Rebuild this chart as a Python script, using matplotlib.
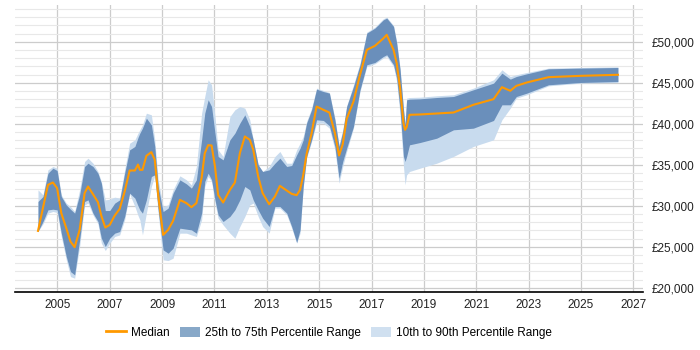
import matplotlib.pyplot as plt
from matplotlib.patches import Patch
from matplotlib.lines import Line2D
from matplotlib.ticker import MultipleLocator, FuncFormatter

plt.rcParams['font.family'] = ['Liberation Sans', 'DejaVu Sans']

# time points (decimal years) shared by all series
years = [2004.26, 2004.45, 2004.64, 2004.83, 2004.99, 2005.15, 2005.34, 2005.50, 2005.66, 2005.85,
         2006.04, 2006.17, 2006.36, 2006.55, 2006.68, 2006.83, 2007.00, 2007.19, 2007.38, 2007.57,
         2007.76, 2007.96, 2008.08, 2008.15, 2008.25, 2008.40, 2008.59, 2008.72, 2008.85, 2009.04,
         2009.23, 2009.42, 2009.68, 2009.93, 2010.12, 2010.31, 2010.51, 2010.63, 2010.76, 2010.89,
         2011.02, 2011.14, 2011.33, 2011.59, 2011.78, 2011.97,
         2012.16, 2012.35, 2012.48, 2012.67, 2012.84, 2013.09, 2013.31, 2013.50, 2013.76, 2013.95,
         2014.14, 2014.27, 2014.39, 2014.52, 2014.71, 2014.90, 2015.16, 2015.39, 2015.60, 2015.76,
         2015.90, 2016.05, 2016.31, 2016.56, 2016.82, 2017.13, 2017.45, 2017.58, 2017.84, 2017.96,
         2018.09, 2018.22, 2018.28, 2018.34, 2018.45, 2018.85, 2019.49, 2020.13,
         2020.89, 2021.66, 2021.98, 2022.30, 2022.53, 2022.93, 2023.76, 2024.97, 2026.41]

median = [26950, 29760, 32560, 32850, 32160, 29110, 27280, 25650, 24960, 27070,
          31550, 32360, 31420, 30450, 28780, 27360, 27680, 28820, 29630, 31750,
          34310, 34310, 35040, 34390, 34390, 36100, 36550, 35610, 31340, 26460,
          27070, 28170, 30730, 30330, 29840, 30330, 33420, 36420, 37400, 37360,
          34800, 31340, 30410, 31950, 32850, 36420,
          38460, 38050, 36870, 33580, 31550, 30200, 31140, 32440, 31870, 31460,
          31300, 31950, 33740, 36340, 38870, 42110, 41710, 41380, 38870, 36140,
          37520, 40610, 42720, 45980, 49020, 49510, 50410, 50850, 49020, 47400,
          44350, 40080, 39270, 39590, 41100, 41140, 41260, 41380,
          42320, 43010, 44470, 44030, 44630, 45040, 45690, 45850, 45980]

p25 = [26900, 28090, 29510, 29590, 29510, 26670, 23820, 21990, 21590, 25850,
       30530, 30730, 29110, 28090, 26060, 25040, 26060, 26670, 26870, 28700,
       31550, 30940, 30000, 29510, 29110, 30730, 33580, 33780, 29510, 24630,
       24230, 24840, 27280, 27160, 27070, 26670, 29110, 32970, 33980, 33170,
       30730, 28900, 28090, 28700, 29510, 30730,
       32360, 31950, 30730, 29510, 28500, 27480, 29920, 29920, 29110, 27480,
       25530, 27070, 32360, 36020, 38050, 40490, 40410, 39760, 37240, 33370,
       35410, 37030, 39680, 44150, 47200, 47480, 48210, 48420, 47200, 45570,
       41710, 36020, 35410, 36020, 37440, 37720, 38250, 39270,
       39470, 40410, 42320, 42320, 43330, 43740, 44760, 45040, 45160]

p75 = [30530, 31140, 33980, 34590, 34310, 31140, 30120, 29590, 29110, 31340,
       34800, 35200, 34800, 33980, 32760, 29430, 29430, 30330, 30730, 33980,
       36830, 37240, 38330, 38860, 39470, 40690, 39880, 37240, 32360, 29310,
       29720, 31550, 33170, 32680, 32160, 33170, 38050, 41300, 42930, 42110,
       38860, 36020, 35610, 38050, 38860, 40080,
       41100, 39680, 38050, 35000, 34190, 34390, 35200, 35810, 34800, 34920,
       36220, 37030, 38050, 40080, 41710, 44230, 43940, 43740, 40490, 37240,
       39070, 42110, 44550, 47200, 51060, 51670, 52680, 52890, 51870, 49840,
       46590, 41710, 39880, 42930, 43010, 43050, 43210, 43330,
       44150, 44960, 46180, 45450, 45770, 46100, 46710, 46790, 46870]

p10 = [26870, 27810, 29110, 29310, 29190, 26260, 23420, 21380, 21180, 25040,
       30120, 30330, 28900, 27810, 25450, 24550, 25450, 26260, 26460, 28290,
       31460, 29920, 28820, 28290, 26460, 29110, 32360, 33660, 29110, 23420,
       23330, 23620, 26670, 26670, 26460, 26260, 28290, 32360, 33580, 32970,
       30330, 28500, 27680, 26670, 26060, 27480,
       28700, 30120, 30330, 28700, 27480, 26670, 29720, 29720, 28900, 27280,
       25450, 26670, 32160, 35810, 37840, 40080, 40080, 39470, 36830, 32760,
       34800, 36630, 39470, 43940, 46990, 47320, 48010, 48210, 46990, 45160,
       41100, 34800, 32560, 33780, 34190, 34590, 35200, 36020,
       37240, 38050, 40490, 41910, 43130, 43540, 44630, 44960, 45040]

p90 = [31950, 31340, 34390, 34800, 34590, 31340, 30330, 29920, 29310, 31950,
       35410, 35810, 35200, 34190, 32970, 30730, 30810, 31060, 30940, 34390,
       37640, 38050, 38860, 39270, 39880, 41300, 41100, 38050, 33170, 29920,
       30120, 31950, 33660, 33170, 32560, 34800, 41300, 43330, 45370, 44760,
       40890, 36830, 36020, 40890, 41710, 42110,
       41910, 40490, 38050, 35000, 34190, 34800, 36020, 36630, 35200, 35200,
       36830, 37640, 38460, 40290, 41910, 44350, 44070, 43820, 40690, 37440,
       39270, 42200, 44760, 47400, 51180, 51790, 52810, 53010, 51990, 50040,
       46790, 41910, 40080, 43130, 43210, 43250, 43420, 43540,
       44350, 45370, 46590, 45770, 45980, 46260, 46790, 46870, 46950]

year_ticks = list(range(2005, 2028, 2))

fig = plt.figure(figsize=(7, 3.5), dpi=100)
ax = fig.add_axes([0.021, 0.166, 0.898, 0.82])

ax.fill_between(years, p10, p90, color='#c8dbee', linewidth=0, zorder=2)
ax.fill_between(years, p25, p75, color='#6a8fbb', linewidth=0, zorder=3)
ax.plot(years, median, color='#ff9900', linewidth=1.5, zorder=4)

ax.set_xlim(2003.37, 2027.38)
ax.set_ylim(19510, 54500)
ax.set_xticks(year_ticks)
ax.yaxis.set_major_locator(MultipleLocator(5000))
ax.yaxis.set_minor_locator(MultipleLocator(1000))
ax.yaxis.set_major_formatter(FuncFormatter(lambda v, p: f'£{int(v):,}'))
ax.yaxis.tick_right()

ax.grid(axis='y', which='major', color='#cccccc', linewidth=0.9, zorder=0)
ax.grid(axis='y', which='minor', color='#e8e8e8', linewidth=0.8, zorder=0)
ax.grid(axis='x', which='major', color='#cccccc', linewidth=0.9, zorder=0)
ax.set_axisbelow(True)

for s in ['top', 'left', 'right']:
    ax.spines[s].set_visible(False)
ax.spines['bottom'].set_color('black')
ax.spines['bottom'].set_linewidth(1.2)
ax.tick_params(axis='y', which='both', length=0, pad=6, labelsize=8.5, labelcolor='#222222')
ax.tick_params(axis='x', length=0, pad=5, labelsize=8.5, labelcolor='#222222')

handles = [Line2D([0], [0], color='#ff9900', linewidth=2),
           Patch(facecolor='#88a8c8', edgecolor='none'),
           Patch(facecolor='#d0e0f0', edgecolor='none')]
labels = ['Median', '25th to 75th Percentile Range', '10th to 90th Percentile Range']
fig.legend(handles, labels, loc='center', bbox_to_anchor=(0.47, 0.049), ncol=3,
           frameon=False, fontsize=8.5, handlelength=1.7, handleheight=1.0, columnspacing=0.85,
           handletextpad=0.45)

fig.savefig('out.png', dpi=100)
